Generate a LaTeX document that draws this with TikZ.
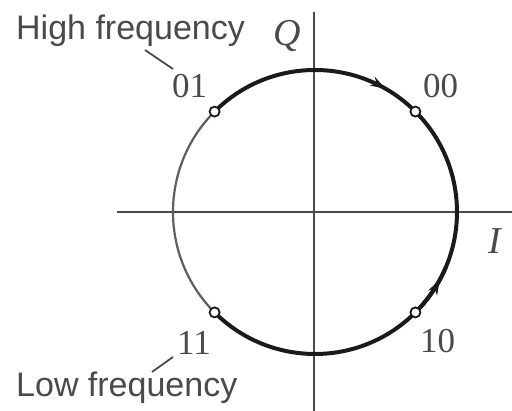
\documentclass[tikz,border=0pt]{standalone}
\usepackage{fontspec}
\setmainfont{Liberation Serif}
\newfontfamily\labelsans{Liberation Sans}
\usetikzlibrary{decorations.markings,arrows.meta,calc}
\definecolor{axisgray}{HTML}{4A4A4A}
\definecolor{thingray}{HTML}{5E5E5E}
\definecolor{thickdark}{HTML}{1A1A1A}
\definecolor{textgray}{HTML}{4A4A4A}
\tikzset{
  axisline/.style={draw=axisgray,line width=2.2pt},
  thinarc/.style={draw=thingray,line width=2.2pt},
  thickarc/.style={draw=thickdark,line width=4pt},
  statept/.style={circle,draw=thickdark,fill=white,line width=1.8pt,minimum size=10pt,inner sep=0pt},
  numlabel/.style={font=\fontsize{35}{38}\selectfont,text=textgray,inner sep=0pt,anchor=base west},
  freqlabel/.style={font=\labelsans\fontsize{34}{38}\selectfont,text=textgray,inner sep=0pt,anchor=base west},
  axislabel/.style={font=\fontsize{38}{42}\selectfont\itshape,text=textgray,inner sep=0pt,anchor=base west},
  leader/.style={draw=textgray,line width=1.8pt},
  midarrow/.style={postaction={decorate},decoration={markings,mark=at position #1 with {\arrow{Stealth[length=15pt,width=10pt]}}}}
}
\begin{document}
\begin{tikzpicture}[x=1pt,y=1pt]
\useasboundingbox (0,0) rectangle (512,411);
\coordinate (O) at (315,199);
% axes
\coordinate (qtop) at (314,399);
\coordinate (qbot) at (314,0);
\coordinate (ileft) at (117,199);
\coordinate (iright) at (512,199);
\draw[axisline] (qbot) -- (qtop);
\draw[axisline] (ileft) -- (iright);
% circle arcs
\draw[thinarc] ($(O)+(135:142)$) arc[start angle=135,end angle=225,radius=142];
\draw[thickarc,midarrow=0.83] ($(O)+(135:142)$) arc[start angle=135,end angle=45,radius=142];
\draw[thickarc] ($(O)+(45:142)$) arc[start angle=45,end angle=-45,radius=142];
\draw[thickarc,midarrow=0.75] ($(O)+(-45:142)$) arc[start angle=-45,end angle=-23,radius=142];
\draw[thickarc] ($(O)+(-45:142)$) arc[start angle=-45,end angle=-135,radius=142];
% state points
\node[statept] (p01) at ($(O)+(135:142)$) {};
\node[statept] (p00) at ($(O)+(45:142)$) {};
\node[statept] (p10) at ($(O)+(-45:142)$) {};
\node[statept] (p11) at ($(O)+(-135:142)$) {};
% labels
\node[numlabel] (l01) at (172,313) {01};
\node[numlabel] (l00) at (423,313) {00};
\node[numlabel] (l10) at (420,58) {10};
\node[numlabel] (l11) at (177,56) {11};
\node[axislabel] (lQ) at (273,365) {Q};
\node[axislabel] (lI) at (488,157) {I};
\node[freqlabel] (hf) at (16,371) {High frequency};
\node[freqlabel] (lf) at (16,14) {Low frequency};
% leaders
\coordinate (hfa) at (145,361);
\coordinate (hfb) at (173,342);
\coordinate (lfa) at (152,39);
\coordinate (lfb) at (173,54);
\draw[leader] (hfa) -- (hfb);
\draw[leader] (lfa) -- (lfb);
\end{tikzpicture}
\end{document}
